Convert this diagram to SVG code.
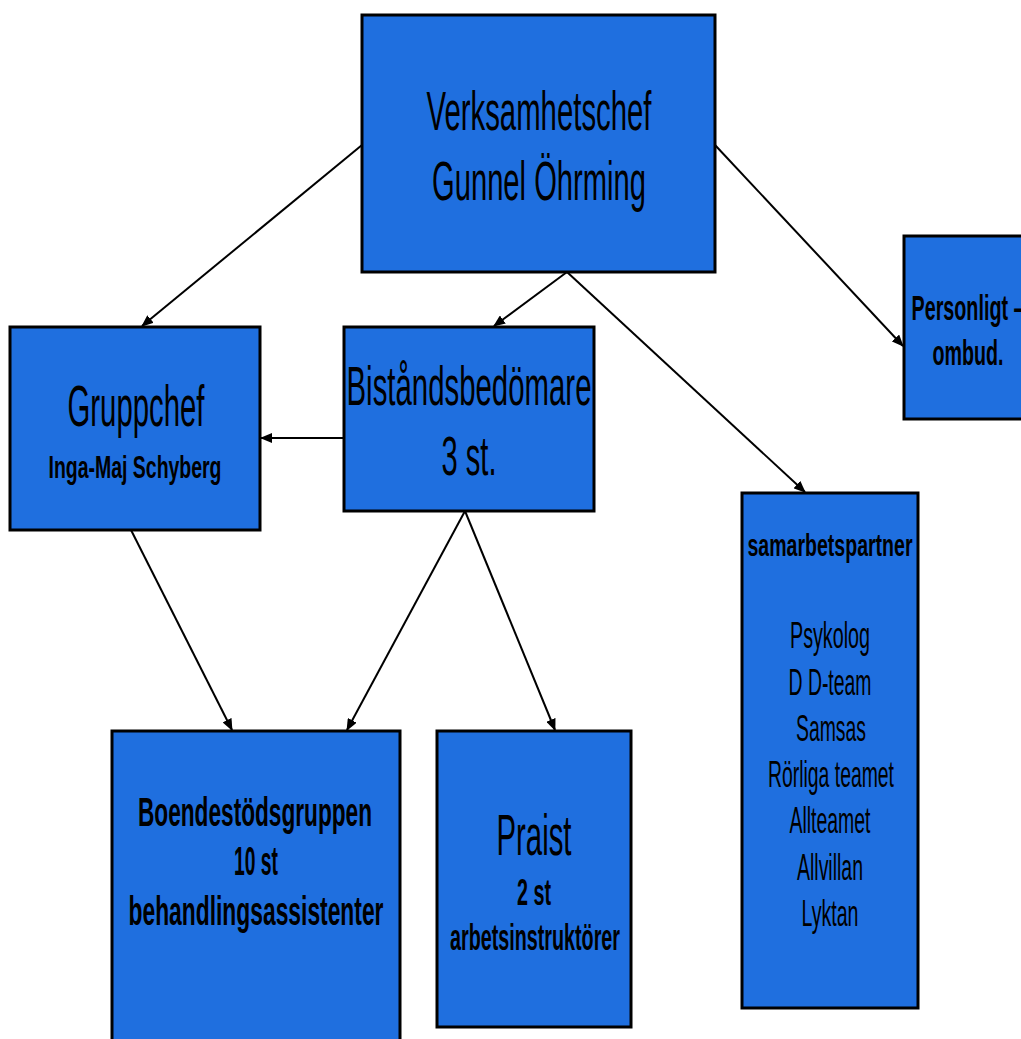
<svg xmlns="http://www.w3.org/2000/svg" width="1021" height="1039" viewBox="0 0 1021 1039">
<style>
.box{fill:#1f6fdf;stroke:#000;stroke-width:3}
.t{font-family:"Liberation Sans",Arial,sans-serif;fill:#000;text-anchor:middle}
.b{font-weight:bold}
.c{stroke:#000;stroke-width:2;fill:none;marker-end:url(#ah)}
</style>
<defs>
<marker id="ah" markerWidth="12" markerHeight="10" refX="11" refY="5" orient="auto" markerUnits="userSpaceOnUse">
<path d="M0,0 L12,5 L0,10 Z" fill="#000"/>
</marker>
</defs>
<rect width="1021" height="1039" fill="#fff"/>
<g id="connectors">
<line class="c" x1="362" y1="145" x2="142" y2="326"/>
<line class="c" x1="567" y1="272" x2="494" y2="326"/>
<line class="c" x1="567" y1="272" x2="805" y2="492"/>
<line class="c" x1="715" y1="145" x2="903" y2="346"/>
<line class="c" x1="344" y1="438" x2="261" y2="438"/>
<line class="c" x1="131" y1="530" x2="232" y2="730"/>
<line class="c" x1="465" y1="511" x2="347" y2="730"/>
<line class="c" x1="465" y1="511" x2="555" y2="730"/>
</g>
<g id="verksamhetschef">
<rect class="box" x="362" y="15" width="353" height="257"/>
<text class="t" x="539" y="130" font-size="56" textLength="225" lengthAdjust="spacingAndGlyphs">Verksamhetschef</text>
<text class="t" x="539" y="200" font-size="56" textLength="214" lengthAdjust="spacingAndGlyphs">Gunnel Öhrming</text>
</g>
<g id="gruppchef">
<rect class="box" x="10" y="327" width="250" height="203"/>
<text class="t" x="136" y="426" font-size="57" textLength="137" lengthAdjust="spacingAndGlyphs">Gruppchef</text>
<text class="t b" x="135" y="478" font-size="32" textLength="173" lengthAdjust="spacingAndGlyphs">Inga-Maj Schyberg</text>
</g>
<g id="bistandsbedomare">
<rect class="box" x="344" y="327" width="250" height="184"/>
<text class="t" x="469" y="405" font-size="56" textLength="245" lengthAdjust="spacingAndGlyphs">Biståndsbedömare</text>
<text class="t" x="469" y="475" font-size="56" textLength="55" lengthAdjust="spacingAndGlyphs">3 st.</text>
</g>
<g id="personligt-ombud">
<rect class="box" x="904" y="236" width="130" height="183"/>
<text class="t b" x="968" y="320" font-size="35" textLength="113" lengthAdjust="spacingAndGlyphs">Personligt –</text>
<text class="t b" x="968" y="365" font-size="35" textLength="71" lengthAdjust="spacingAndGlyphs">ombud.</text>
</g>
<g id="samarbetspartner">
<rect class="box" x="742" y="493" width="176" height="515"/>
<text class="t b" x="830" y="556" font-size="32" textLength="165" lengthAdjust="spacingAndGlyphs">samarbetspartner</text>
<text class="t" x="830" y="648" font-size="36" textLength="80" lengthAdjust="spacingAndGlyphs">Psykolog</text>
<text class="t" x="830" y="695" font-size="36" textLength="83" lengthAdjust="spacingAndGlyphs">D D-team</text>
<text class="t" x="831" y="741" font-size="36" textLength="70" lengthAdjust="spacingAndGlyphs">Samsas</text>
<text class="t" x="831" y="787" font-size="36" textLength="126" lengthAdjust="spacingAndGlyphs">Rörliga teamet</text>
<text class="t" x="830" y="833" font-size="36" textLength="81" lengthAdjust="spacingAndGlyphs">Allteamet</text>
<text class="t" x="830" y="880" font-size="36" textLength="66" lengthAdjust="spacingAndGlyphs">Allvillan</text>
<text class="t" x="830" y="926" font-size="36" textLength="57" lengthAdjust="spacingAndGlyphs">Lyktan</text>
</g>
<g id="boendestodsgruppen">
<rect class="box" x="112" y="731" width="288" height="320"/>
<text class="t b" x="255" y="826" font-size="41" textLength="234" lengthAdjust="spacingAndGlyphs">Boendestödsgruppen</text>
<text class="t b" x="256" y="875" font-size="41" textLength="44" lengthAdjust="spacingAndGlyphs">10 st</text>
<text class="t b" x="256" y="925" font-size="41" textLength="255" lengthAdjust="spacingAndGlyphs">behandlingsassistenter</text>
</g>
<g id="praist">
<rect class="box" x="437" y="731" width="194" height="296"/>
<text class="t" x="534" y="855" font-size="57" textLength="75" lengthAdjust="spacingAndGlyphs">Praist</text>
<text class="t b" x="534" y="905" font-size="36" textLength="34" lengthAdjust="spacingAndGlyphs">2 st</text>
<text class="t b" x="535" y="950" font-size="36" textLength="170" lengthAdjust="spacingAndGlyphs">arbetsinstruktörer</text>
</g>
</svg>
